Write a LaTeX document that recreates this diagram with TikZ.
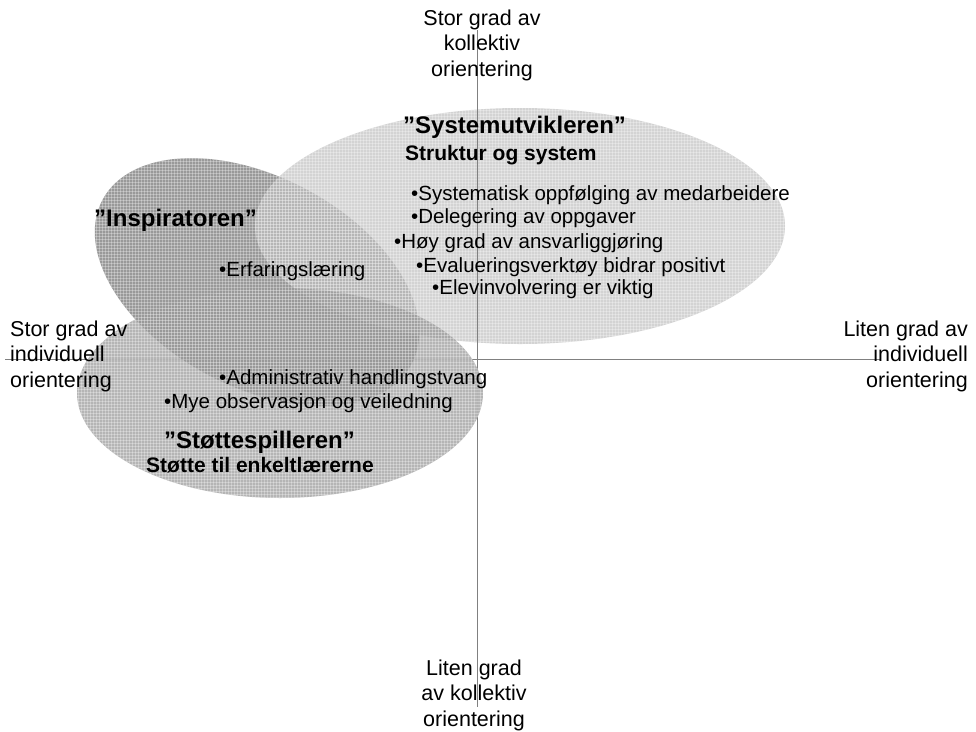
\documentclass[tikz,border=0pt]{standalone}
\usepackage{fontspec}
\setmainfont{Liberation Sans}
\usetikzlibrary{patterns}

\definecolor{inspgray}{gray}{0.6}
\definecolor{sysgray}{gray}{0.76}
\definecolor{stotgray}{gray}{0.6}
\definecolor{axisgray}{gray}{0.5}

\begin{document}
\begin{tikzpicture}[x=1pt,y=-1pt,
    axis label/.style={inner sep=0pt,font=\fontsize{21.5}{25.5}\selectfont},
    title node/.style={inner sep=0pt,anchor=west,font=\bfseries\fontsize{24}{28}\selectfont},
    sub node/.style={inner sep=0pt,anchor=west,font=\bfseries\fontsize{21}{25}\selectfont},
    point node/.style={inner sep=0pt,anchor=west,font=\fontsize{20.5}{24}\selectfont},
    axis line/.style={draw=axisgray,line width=0.9pt},
    texture/.style={pattern=grid,pattern color=white,opacity=0.3}]

    \useasboundingbox (0,0) rectangle (976,731);

    % the three fields
    \fill[inspgray,rotate around={-28:(257,282)}] (257,282) ellipse [x radius=175,y radius=105];
    \fill[texture,rotate around={-28:(257,282)}] (257,282) ellipse [x radius=175,y radius=105];
    \fill[sysgray,opacity=0.73] (520,226) ellipse [x radius=265,y radius=118];
    \fill[texture] (520,226) ellipse [x radius=265,y radius=118];

    % axes
    \coordinate (top) at (477,30);
    \coordinate (bottom) at (477,707);
    \coordinate (left) at (5,359);
    \coordinate (right) at (880,359);
    \draw[axis line] (top) -- (bottom);
    \draw[axis line] (left) -- (right);

    \fill[stotgray,opacity=0.73] (280,393) ellipse [x radius=203,y radius=105];
    \fill[texture] (280,393) ellipse [x radius=203,y radius=105];

    % axis labels
    \node[axis label,align=center] (kolltop) at (482,45) {Stor grad av\\kollektiv\\orientering};
    \node[axis label,align=center] (kollbot) at (474,695) {Liten grad\\av kollektiv\\orientering};
    \node[axis label,align=left,anchor=west] (indleft) at (10,356) {Stor grad av\\individuell\\orientering};
    \node[axis label,align=right,anchor=east] (indright) at (968,356) {Liten grad av\\individuell\\orientering};

    % Systemutvikleren
    \node[title node] (sys) at (403,127) {”Systemutvikleren”};
    \node[sub node] (syssub) at (405,155) {Struktur og system};
    \node[point node] (sys1) at (411,195) {•Systematisk oppfølging av medarbeidere};
    \node[point node] (sys2) at (411,218) {•Delegering av oppgaver};
    \node[point node] (sys3) at (394,243) {•Høy grad av ansvarliggjøring};
    \node[point node] (sys4) at (416,267) {•Evalueringsverktøy bidrar positivt};
    \node[point node] (sys5) at (432,289) {•Elevinvolvering er viktig};

    % Inspiratoren
    \node[title node] (insp) at (94,220) {”Inspiratoren”};
    \node[point node] (insp1) at (219,271) {•Erfaringslæring};

    % Stottespilleren
    \node[point node] (stot1) at (219,379) {•Administrativ handlingstvang};
    \node[point node] (stot2) at (164,403) {•Mye observasjon og veiledning};
    \node[title node] (stot) at (164,442) {”Støttespilleren”};
    \node[sub node] (stotsub) at (146,465) {Støtte til enkeltlærerne};
\end{tikzpicture}
\end{document}
